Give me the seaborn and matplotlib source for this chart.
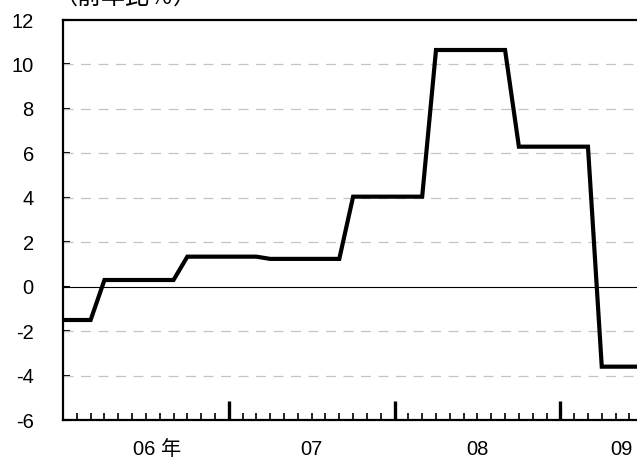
import matplotlib
matplotlib.use("Agg")
import matplotlib.pyplot as plt
import matplotlib.transforms as mtransforms
import seaborn as sns
import pandas as pd

# monthly index, 0 = Jan 2006
months = list(range(43))
values = [-1.5, -1.5, -1.5,
          0.3, 0.3, 0.3, 0.3, 0.3, 0.3,
          1.35, 1.35, 1.35, 1.35, 1.35, 1.35,
          1.25, 1.25, 1.25, 1.25, 1.25, 1.25,
          4.05, 4.05, 4.05, 4.05, 4.05, 4.05,
          10.65, 10.65, 10.65, 10.65, 10.65, 10.65,
          6.3, 6.3, 6.3, 6.3, 6.3, 6.3,
          -3.6, -3.6, -3.6, -3.6]
year_labels = ["06 年", "07", "08", "09"]
y_ticks = [-6, -4, -2, 0, 2, 4, 6, 8, 10, 12]
unit_label = "（前年比％）"

df = pd.DataFrame({"month": months, "value": values})

sns.set_style("white")
plt.rcParams["font.family"] = ["Liberation Sans", "Noto Sans CJK JP"]
plt.rcParams["axes.unicode_minus"] = False

fig = plt.figure(figsize=(6.37, 4.62), dpi=100)
ax = fig.add_axes([63 / 637, 42 / 462, 1 - 63 / 637, 400 / 462])

# dashed grid + zero line
for y in y_ticks:
    if y == 0:
        ax.axhline(0, color="black", lw=0.8, zorder=1)
    elif y not in (-6, 12):
        ax.axhline(y, color="#c4c4c4", lw=0.9, dashes=(8, 6), zorder=1)

sns.lineplot(data=df, x="month", y="value", color="black", lw=3, ax=ax,
             zorder=3)
ax.lines[-1].set_solid_joinstyle("miter")

ax.set_xlim(0, 41.55)
ax.set_ylim(-6, 12)
ax.set_xlabel("")
ax.set_ylabel("")

# spines
for side in ["left", "bottom", "top"]:
    ax.spines[side].set_color("black")
    ax.spines[side].set_linewidth(1.6)
ax.spines["right"].set_visible(False)

# y ticks
ax.set_yticks(y_ticks)
ax.set_yticklabels([str(v) for v in y_ticks])
ax.tick_params(axis="y", direction="in", length=5, width=1.5, pad=21,
               labelsize=14.5, colors="black", left=True)

# x ticks: monthly minor, yearly major, no labels
ax.set_xticks([12, 24, 36])
ax.set_xticks([m for m in range(1, 42) if m % 12 != 0], minor=True)
ax.set_xticklabels([])
ax.tick_params(axis="x", which="major", direction="in", length=14, width=2.4,
               bottom=True, colors="black")
ax.tick_params(axis="x", which="minor", direction="in", length=5, width=1.2,
               bottom=True, colors="black")

trans = mtransforms.blended_transform_factory(ax.transData, ax.transAxes)
for pos, lab in zip([6.8, 18, 30, 40.4], year_labels):
    ax.text(pos, -0.074, lab, transform=trans, ha="center", va="center",
            fontsize=14.5, color="black")

fig.text(53 / 637, 1 - 5 / 462, unit_label, ha="left", va="baseline",
         fontsize=17.3, color="black")

fig.savefig("out.png", dpi=100)
